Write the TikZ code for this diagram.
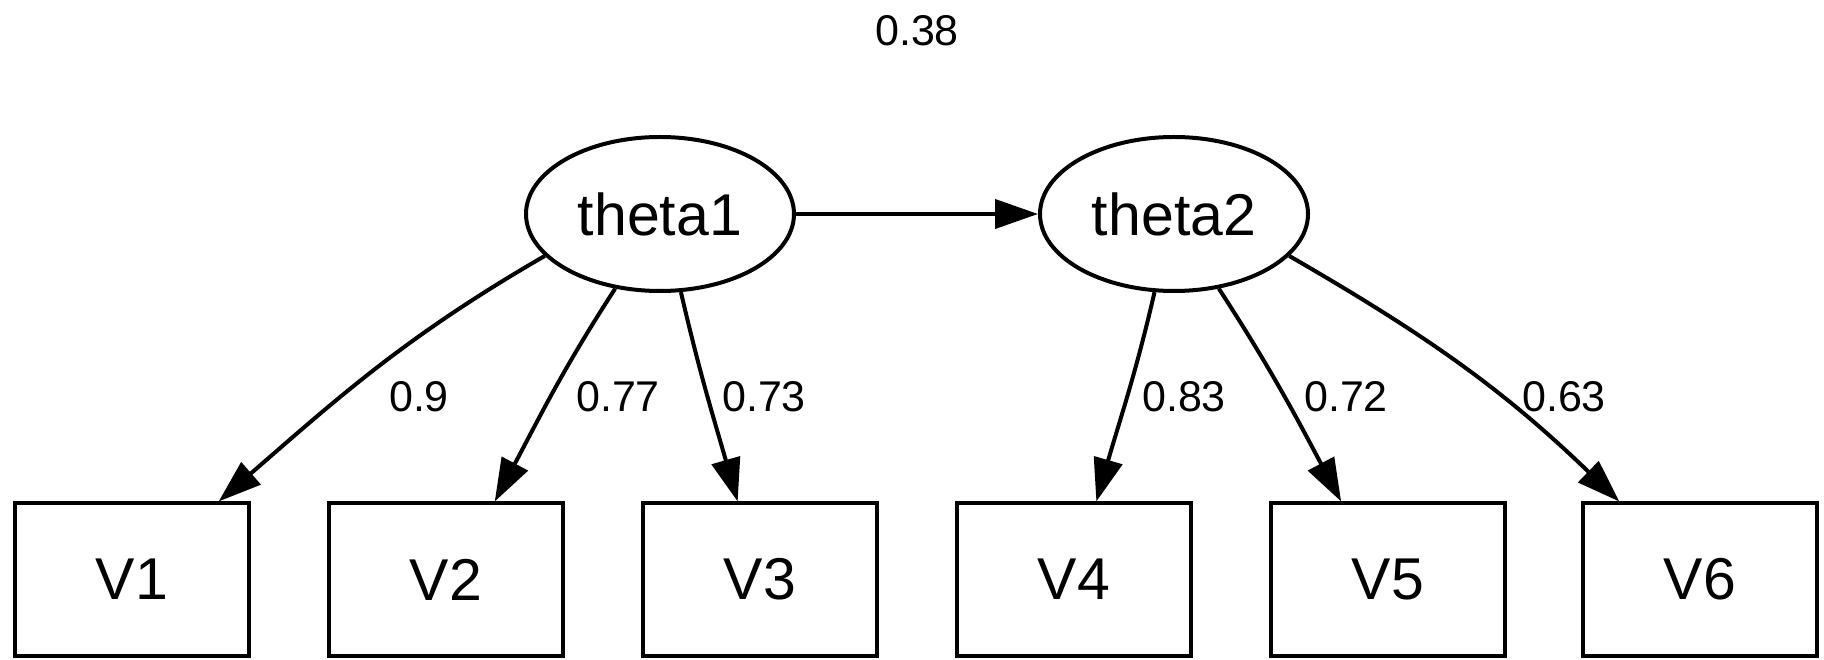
\documentclass[tikz,border=0pt]{standalone}
\usepackage{fontspec}
\setmainfont{Liberation Sans}
\usetikzlibrary{arrows.meta,shapes.geometric}

\begin{document}
\begin{tikzpicture}[x=1pt,y=1pt, line width=4pt,
  every node/.style={font=\fontsize{59}{63}\selectfont},
  latent/.style={draw, ellipse, minimum width=268pt, minimum height=154pt, inner sep=0pt},
  manifest/.style={draw, rectangle, minimum width=234pt, minimum height=152pt, inner sep=0pt},
  load/.style={-{Triangle[length=43pt,width=29pt]}},
  coef/.style={font=\fontsize{43}{47}\selectfont}]
  \useasboundingbox (0,0) rectangle (1824,659);
  \node[latent] (theta1) at (660,445) {theta1};
  \node[latent] (theta2) at (1174,445) {theta2};
  \foreach \name/\x in {V1/132,V2/446,V3/760,V4/1074,V5/1388,V6/1700} {
    \node[manifest] (\name) at (\x,79.5) {\name};
  }
  % structural path
  \draw[load] (theta1) -- (theta2);
  \node[coef] (c0) at (917,628) {0.38};
  % loadings
  \foreach \src/\sa/\o/\dst/\da/\i in {theta1/200/210/V1/42/41,theta1/239/237/V2/58/62,theta1/285/283/V3/106/106,
      theta2/256/257/V4/74/74,theta2/301/303/V5/121/118,theta2/340/330/V6/136/136} {
    \draw[load] (\src.\sa) to[out=\o,in=\i] (\dst.\da);
  }
  \foreach \name/\x/\value in {c1/419/0.9,c2/618/0.77,c3/764/0.73,c4/1184/0.83,c5/1346/0.72,c6/1564/0.63} {
    \node[coef] (\name) at (\x,262) {\value};
  }
\end{tikzpicture}
\end{document}
